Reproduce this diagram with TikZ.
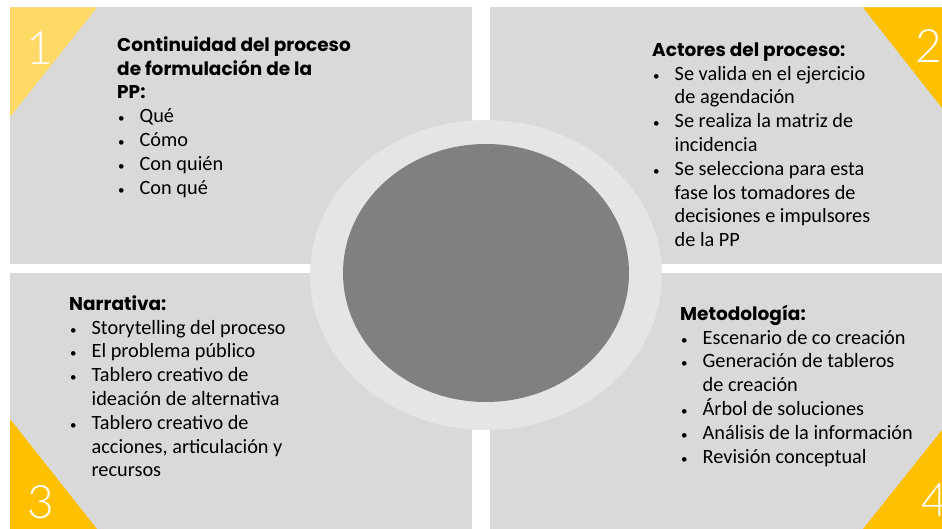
\documentclass[tikz,border=0pt]{standalone}
\usepackage{fontspec}
\usetikzlibrary{shapes.geometric}
\setmainfont{Carlito}
\newfontfamily\headfont{Poppins}
\newfontfamily\numfont{Lato}[UprightFont=* Light]
\definecolor{panelgray}{HTML}{D9D9D9}
\definecolor{ringgray}{HTML}{E5E5E6}
\definecolor{coregray}{HTML}{808080}
\definecolor{paleyellow}{HTML}{FFD966}
\definecolor{gold}{HTML}{FFC000}
\newcommand{\hd}[1]{\multicolumn{2}{@{}l@{}}{\headfont\bfseries\fontsize{18.5}{23.8}\selectfont #1}}
\newcommand{\bul}{{\fontsize{13}{13}\selectfont\textbullet}}
\newenvironment{paneltext}{\fontsize{20.3}{23.8}\selectfont\begin{tabular}{@{\hspace{1pt}}l@{\hspace{15pt}}l@{}}}{\end{tabular}}
\tikzset{
  panel/.style={fill=panelgray, draw=none},
  tri/.style={fill=gold, draw=none},
  num/.style={text=white, font=\numfont\fontsize{46}{46}\selectfont, inner sep=0pt},
  txt/.style={anchor=north west, inner sep=0pt, text=black}
}
\begin{document}
\begin{tikzpicture}[x=1pt,y=-1pt]
\useasboundingbox (0,0) rectangle (942,529);
\fill[white] (0,0) rectangle (942,529);
% panels
\path[panel] (10,7.5) rectangle (472,264);
\path[panel] (490,7.5) rectangle (942,264);
\path[panel] (10,273) rectangle (472,529);
\path[panel] (490,273) rectangle (942,529);
% corner triangles
\path[fill=paleyellow] (10,7.5) -- (97,7.5) -- (10,117) -- cycle;
\path[tri] (863,7.5) -- (942,7.5) -- (942,108) -- cycle;
\path[tri] (10,419) -- (10,529) -- (97,529) -- cycle;
\path[tri] (942,430) -- (942,529) -- (863,529) -- cycle;
% numbers
\node[num] (n1) at (40,48) {1};
\node[num] (n2) at (929,46) {2};
\node[num] (n3) at (41,502) {3};
\node[num, anchor=west] (n4) at (921,500) {4};
% central circle
\fill[ringgray] (486,275) ellipse [x radius=176, y radius=155];
\node[ellipse, fill=coregray, minimum width=286pt, minimum height=258pt, inner sep=0pt] (core) at (486,273) {};
% texts
\node[txt] (t1) at (117,34.4) {\begin{paneltext}
\hd{Continuidad del proceso}\\
\hd{de formulación de la}\\
\hd{PP:}\\
\bul & Qué\\
\bul & Cómo\\
\bul & Con quién\\
\bul & Con qué
\end{paneltext}};
\node[txt] (t2) at (652,39.4) {\begin{paneltext}
\hd{Actores del proceso:}\\
\bul & Se valida en el ejercicio\\
 & de agendación\\
\bul & Se realiza la matriz de\\
 & incidencia\\
\bul & Se selecciona para esta\\
 & fase los tomadores de\\
 & decisiones e impulsores\\
 & de la PP
\end{paneltext}};
\node[txt] (t3) at (69,293.4) {\begin{paneltext}
\hd{Narrativa:}\\
\bul & Storytelling del proceso\\
\bul & El problema público\\
\bul & Tablero creativo de\\
 & ideación de alternativa\\
\bul & Tablero creativo de\\
 & acciones, articulación y\\
 & recursos
\end{paneltext}};
\node[txt] (t4) at (680,303.4) {\begin{paneltext}
\hd{Metodología:}\\
\bul & Escenario de co creación\\
\bul & Generación de tableros\\
 & de creación\\
\bul & Árbol de soluciones\\
\bul & Análisis de la información\\
\bul & Revisión conceptual
\end{paneltext}};
\end{tikzpicture}
\end{document}
